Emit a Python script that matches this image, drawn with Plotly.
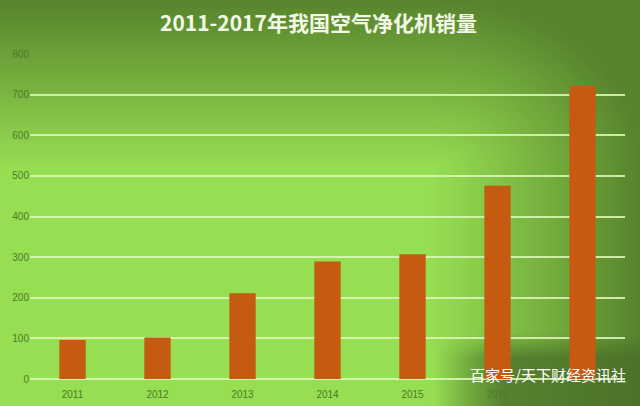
import base64
import struct
import zlib

import plotly.graph_objects as go

# ---- data ----
years = ["2011", "2012", "2013", "2014", "2015", "2016", "2017"]
sales = [96, 102, 211, 289, 307, 476, 721]
y_ticks = [0, 100, 200, 300, 400, 500, 600, 700, 800]
title_text = "2011-2017年我国空气净化机销量"
watermark = "百家号/天下财经资讯社"

# ---- figure geometry ----
W, H = 640, 406
ML, MR, MT, MB = 30, 15, 54, 27


def clamp(v, lo=0.0, hi=1.0):
    return max(lo, min(hi, v))


def make_background_png(w, h, scale):
    light = (150, 222, 82)
    dark = (88, 132, 45)
    wm = (72, 108, 40)
    rows = []
    for j in range(h):
        y = (j + 0.5) * scale
        row = bytearray([0])
        for i in range(w):
            x = (i + 0.5) * scale
            a = clamp((170 - y) / 170)
            b = clamp((x - 430) / 210) ** 1.1
            f = clamp((a * a + b * b) ** 0.5)
            c = [light[k] * (1 - f) + dark[k] * f for k in range(3)]
            wv = clamp((x - 435) / 70) * clamp((y - 335) / 25) * 0.75
            c = [c[k] * (1 - wv) + wm[k] * wv for k in range(3)]
            row.extend(int(round(v)) for v in c)
        rows.append(bytes(row))
    raw = b"".join(rows)

    def chunk(tag, data):
        return (struct.pack(">I", len(data)) + tag + data +
                struct.pack(">I", zlib.crc32(tag + data) & 0xFFFFFFFF))

    png = b"\x89PNG\r\n\x1a\n"
    png += chunk(b"IHDR", struct.pack(">IIBBBBB", w, h, 8, 2, 0, 0, 0))
    png += chunk(b"IDAT", zlib.compress(raw, 9))
    png += chunk(b"IEND", b"")
    return "data:image/png;base64," + base64.b64encode(png).decode()


bg_src = make_background_png(W // 2, H // 2 + 1, 2)

pw = W - ML - MR
ph = H - MT - MB

fig = go.Figure()
fig.add_trace(go.Bar(
    x=years, y=sales,
    marker=dict(color="#C55A11", line=dict(width=0)),
    hoverinfo="x+y",
))

fig.update_layout(
    width=W, height=H,
    margin=dict(l=ML, r=MR, t=MT, b=MB, autoexpand=False),
    paper_bgcolor="#92D050",
    plot_bgcolor="rgba(0,0,0,0)",
    bargap=0.69,
    showlegend=False,
    images=[dict(
        source=bg_src, xref="paper", yref="paper",
        x=-ML / pw, y=1 + MT / ph,
        sizex=W / pw, sizey=H / ph,
        xanchor="left", yanchor="top",
        sizing="stretch", layer="below",
    )],
    xaxis=dict(
        showgrid=False, zeroline=False, showline=False, automargin=False,
        ticks="", ticklabelstandoff=8,
        tickfont=dict(family="Liberation Sans, Arial", size=10, color="#4E7A2C"),
    ),
    yaxis=dict(
        range=[0, 800], tickvals=y_ticks, automargin=False,
        showgrid=True, gridcolor="rgba(215,245,180,0.9)", gridwidth=1.5,
        zeroline=True, zerolinecolor="rgba(215,245,180,0.9)", zerolinewidth=1.5,
        showline=False, ticks="",
        tickfont=dict(family="Liberation Sans, Arial", size=10, color="#4E7A2C"),
    ),
    annotations=[
        dict(text="<b>" + title_text + "</b>", xref="paper", yref="paper",
             x=(318 - ML) / pw, y=1 + (MT - 22) / ph, xanchor="center", yanchor="middle",
             showarrow=False,
             font=dict(family="Noto Sans CJK SC", size=21, color="#F2FAE6")),
        dict(text=watermark, xref="paper", yref="paper",
             x=(628 - ML) / pw, y=-(374 - (H - MB)) / ph, xanchor="right", yanchor="middle",
             showarrow=False,
             font=dict(family="Noto Sans CJK SC", size=15, color="#FFFFFF")),
    ],
)

fig.write_html("out.html", config={"displayModeBar": False},
               post_script="document.body.style.margin='0';")
